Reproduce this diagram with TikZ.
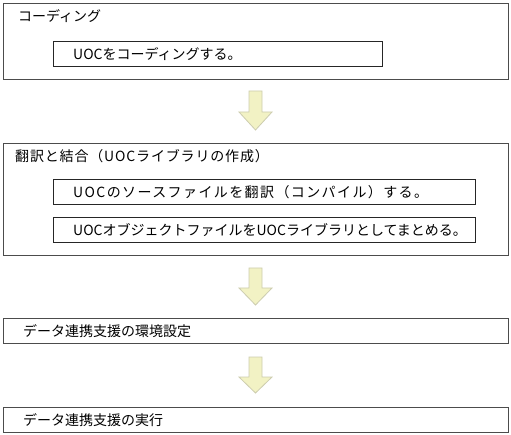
\documentclass[tikz,border=0pt]{standalone}
\usepackage{fontspec}
\setmainfont{Noto Sans CJK JP}
\begin{document}
\begin{tikzpicture}[x=1pt,y=-1pt,
  outerbox/.style={draw=black!70, line width=1pt, anchor=north west, inner sep=0pt},
  innerbox/.style={draw=black!85, line width=1pt, anchor=north west, inner sep=0pt},
  lbl/.style={anchor=west, inner sep=0pt, font=\fontsize{14}{16}\selectfont},
  blockarrow/.style={fill={rgb,255:red,242;green,242;blue,196}, draw={rgb,255:red,205;green,205;blue,175}, line width=0.8pt, line join=miter}
]
\useasboundingbox (0,0) rectangle (511,435);
\fill[white] (0,0) rectangle (511,435);

% box 1
\node[outerbox, minimum width=505pt, minimum height=76pt] (b1) at (3,3) {};
\node[lbl] (t1) at (18,16) {コーディング};
\node[innerbox, minimum width=329pt, minimum height=25pt] (i1) at (53,41) {};
\node[lbl] (t1a) at (73,54) {UOCをコーディングする。};

% box 2
\node[outerbox, minimum width=505pt, minimum height=112pt] (b2) at (3,143) {};
\node[lbl] (t2) at (15,156) {\addfontfeatures{LetterSpace=6}翻訳と結合（UOCライブラリの作成）};
\node[innerbox, minimum width=422pt, minimum height=25pt] (i2a) at (53,179) {};
\node[lbl] (t2a) at (73,192) {\addfontfeatures{LetterSpace=10}UOCのソースファイルを翻訳（コンパイル）する。};
\node[innerbox, minimum width=422pt, minimum height=25pt] (i2b) at (53,217) {};
\node[lbl] (t2b) at (73,230) {UOCオブジェクトファイルをUOCライブラリとしてまとめる。};

% box 3
\node[outerbox, minimum width=505pt, minimum height=25pt] (b3) at (3,318) {};
\node[lbl] (t3) at (23,331) {データ連携支援の環境設定};

% box 4
\node[outerbox, minimum width=505pt, minimum height=25pt] (b4) at (3,407) {};
\node[lbl] (t4) at (23,420) {データ連携支援の実行};

% block arrows
\foreach \t/\m/\b in {91/112/130, 268/288/305, 357/377/393}{
  \draw[blockarrow] (249,\t) -- (262,\t) -- (262,\m) -- (272,\m) -- (255.5,\b) -- (239,\m) -- (249,\m) -- cycle;
}
\end{tikzpicture}
\end{document}
